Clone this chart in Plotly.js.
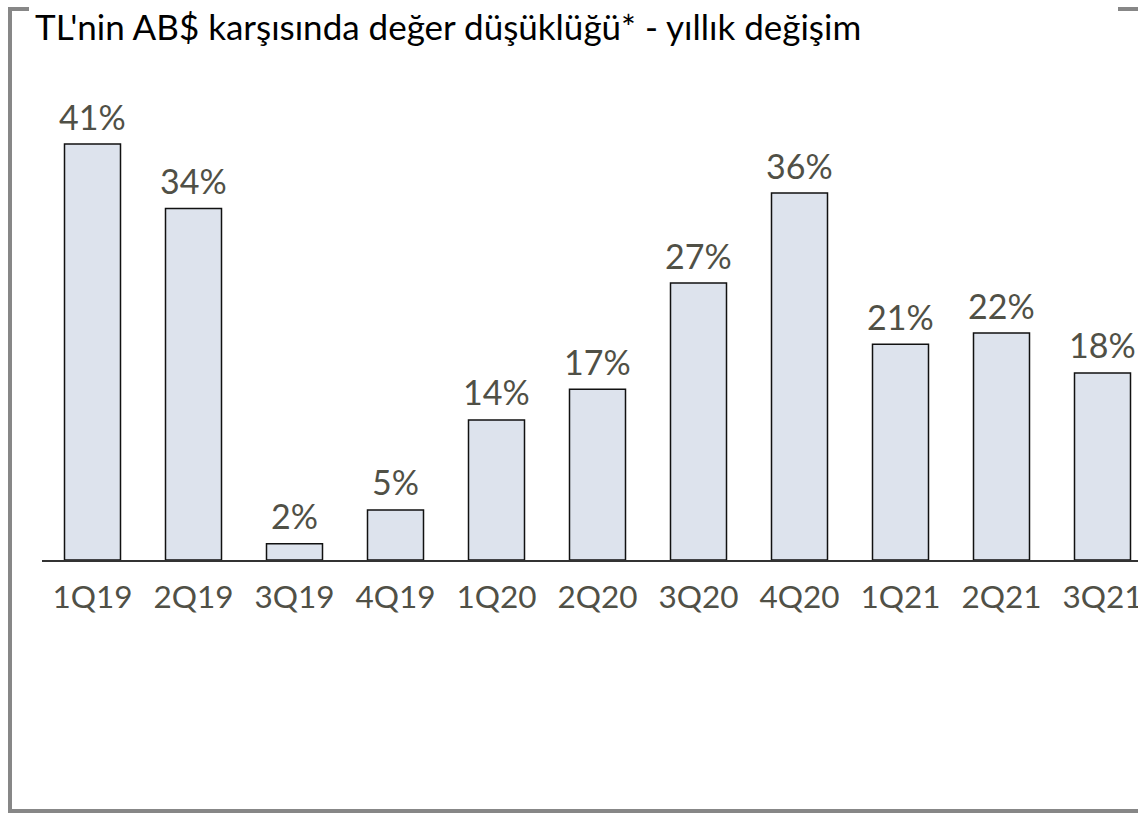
<!DOCTYPE html>
<html>
<head>
<meta charset="utf-8">
<script src="https://cdn.plot.ly/plotly-3.0.1.min.js"></script>
<style>
html,body{margin:0;padding:0;background:#fff;}
#chart{width:1138px;height:813px;}
</style>
</head>
<body>
<div id="chart"></div>
<script>
const quarters = ['1Q19','2Q19','3Q19','4Q19','1Q20','2Q20','3Q20','4Q20','1Q21','2Q21','3Q21'];
const depreciation = [40.7, 34.4, 1.6, 4.9, 13.7, 16.7, 27.1, 35.9, 21.1, 22.2, 18.3];
const chartTitle = "TL'nin AB$ karşısında değer düşüklüğü* - yıllık değişim";

const FONT = 'Lato, "Open Sans", sans-serif';
const TXT = '#505046';
const FRAME = '#878787';

// plot area in pixels: left 42, right 1138, top 49, bottom 560
const L = 42, R = 1138, T = 49, B = 560;
const px = x => (x - L) / (R - L);
const py = y => (B - y) / (B - T);

const trace = {
  type: 'bar',
  x: quarters,
  y: depreciation,
  marker: {color: '#dde3ed', line: {color: '#111111', width: 1.5}},
  hoverinfo: 'skip'
};

const valueLabels = quarters.map((q, i) => ({
  x: q, y: depreciation[i], xref: 'x', yref: 'y',
  text: Math.round(depreciation[i]) + '%',
  showarrow: false, yanchor: 'middle', xanchor: 'center',
  yshift: 28,
  font: {family: FONT, size: 34, color: TXT}
}));

const frameLine = (x0, y0, x1, y1) => ({
  type: 'line', xref: 'paper', yref: 'paper',
  x0: px(x0), y0: py(y0), x1: px(x1), y1: py(y1),
  line: {color: FRAME, width: 4}
});

const layout = {
  width: 1138, height: 813,
  margin: {l: L, r: 1138 - R, t: T, b: 813 - B, pad: 0},
  paper_bgcolor: '#ffffff', plot_bgcolor: '#ffffff',
  showlegend: false,
  bargap: 0.4455,
  title: {
    text: chartTitle,
    font: {family: FONT, size: 35, color: '#000000'},
    xref: 'container', yref: 'container',
    x: 35 / 1138, xanchor: 'left',
    y: 1 - 28 / 813, yanchor: 'middle'
  },
  xaxis: {
    type: 'category',
    range: [-0.5, -0.5 + (R - L) / 101],
    showline: true, linecolor: '#333333', linewidth: 1.5,
    showgrid: false, zeroline: false,
    ticks: 'outside', ticklen: 9, tickcolor: 'rgba(0,0,0,0)',
    tickfont: {family: FONT, size: 31.5, color: TXT}
  },
  yaxis: {
    range: [0, 50],
    visible: false, showgrid: false, zeroline: false
  },
  annotations: valueLabels,
  shapes: [
    frameLine(10, 7, 10, 812),
    frameLine(8, 9, 29, 9),
    frameLine(8, 811, 1138, 811),
    frameLine(1118, 9, 1138, 9)
  ]
};

Plotly.newPlot('chart', [trace], layout, {staticPlot: true, displayModeBar: false});
</script>
</body>
</html>
